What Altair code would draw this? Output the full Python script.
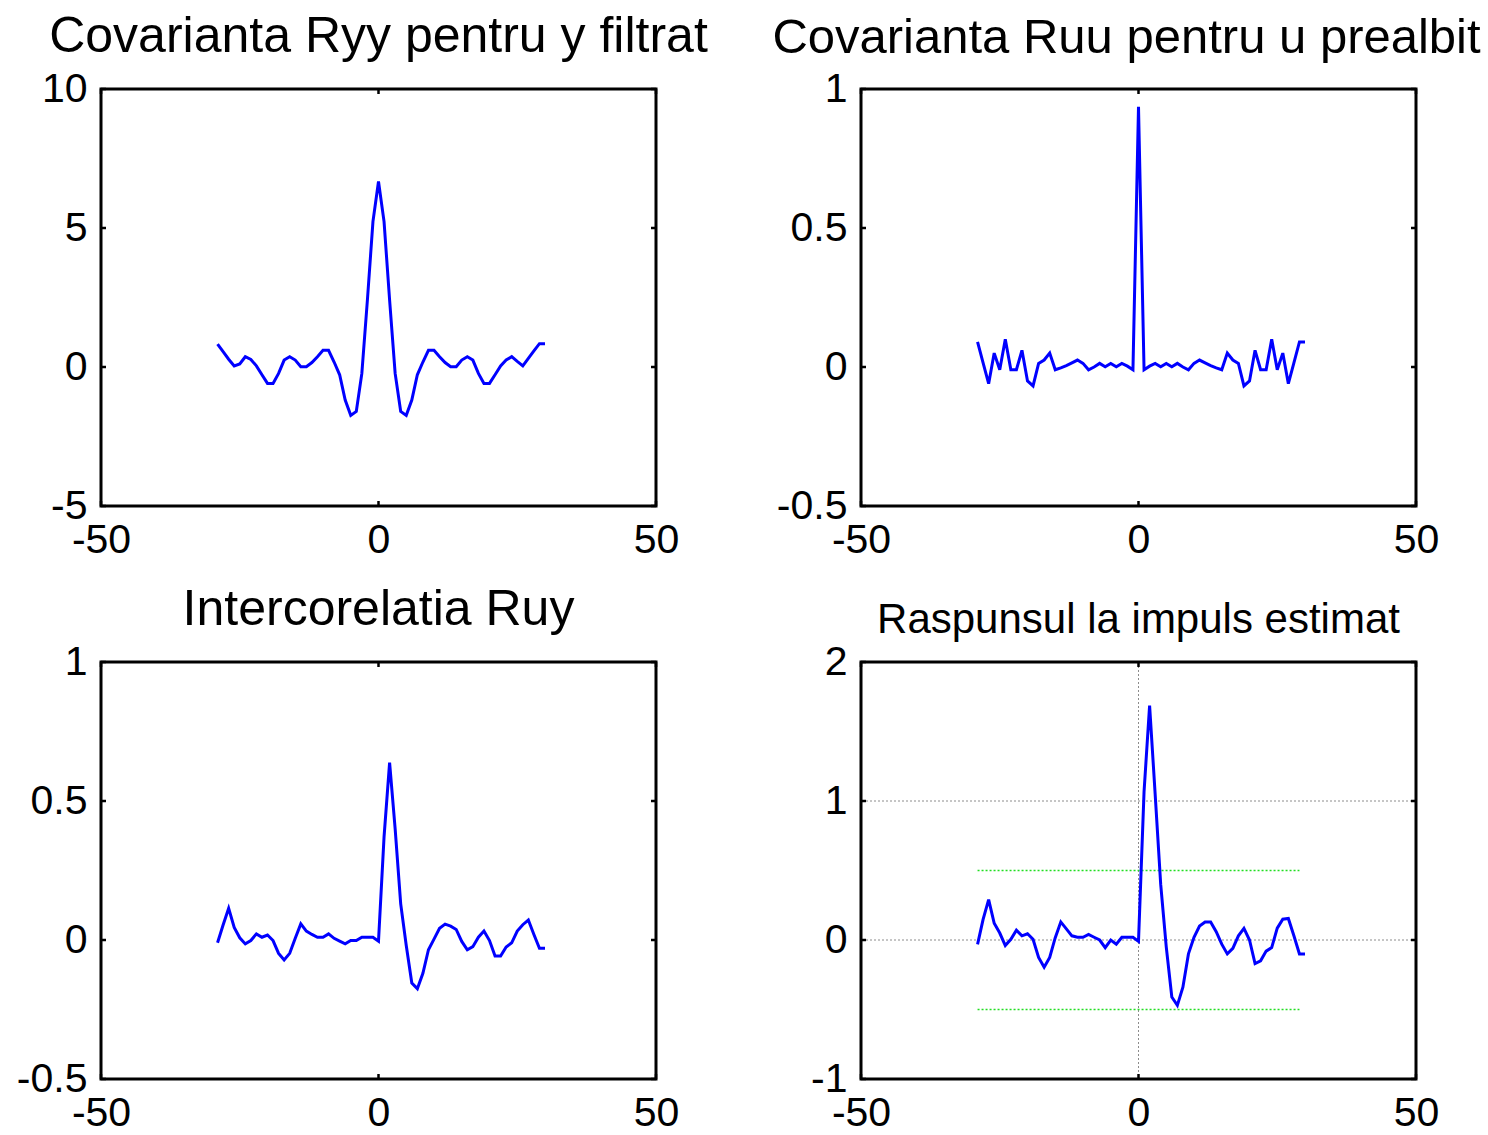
import altair as alt
import pandas as pd

# ---------------- data ----------------
lags = list(range(-29, 31))

ryy = [0.82, 0.55, 0.28, 0.04, 0.11, 0.37, 0.27, 0.04, -0.28, -0.59,
       -0.59, -0.23, 0.25, 0.37, 0.25, 0.01, 0.01, 0.16, 0.37, 0.60,
       0.60, 0.18, -0.28, -1.19, -1.74, -1.60, -0.23, 2.41, 5.23, 6.67,
       5.23, 2.41, -0.23, -1.60, -1.74, -1.19, -0.28, 0.18, 0.60, 0.60,
       0.37, 0.16, 0.01, 0.01, 0.25, 0.37, 0.25, -0.23, -0.59, -0.59,
       -0.28, 0.04, 0.25, 0.37, 0.20, 0.04, 0.31, 0.58, 0.84, 0.84]

ruu = [0.09, 0.015, -0.06, 0.05, -0.01, 0.10, -0.01, -0.01, 0.06, -0.05,
       -0.068, 0.013, 0.025, 0.05, -0.01, -0.003, 0.005, 0.015, 0.025, 0.013,
       -0.01, 0.0, 0.013, 0.001, 0.013, 0.001, 0.013, 0.003, -0.01, 0.936,
       -0.01, 0.003, 0.013, 0.001, 0.013, 0.001, 0.013, 0.0, -0.01, 0.013,
       0.025, 0.015, 0.005, -0.003, -0.01, 0.05, 0.025, 0.013, -0.068, -0.05,
       0.06, -0.01, -0.01, 0.10, -0.01, 0.05, -0.06, 0.015, 0.09, 0.09]

ruy = [-0.01, 0.054, 0.114, 0.045, 0.008, -0.014, -0.002, 0.022, 0.01, 0.018,
       -0.002, -0.048, -0.072, -0.048, 0.006, 0.058, 0.032, 0.02, 0.01, 0.01,
       0.022, 0.006, -0.004, -0.014, -0.002, -0.002, 0.01, 0.01, 0.01, -0.004,
       0.371, 0.638, 0.40, 0.13, -0.02, -0.155, -0.175, -0.12, -0.035, 0.003,
       0.042, 0.057, 0.05, 0.038, -0.005, -0.035, -0.024, 0.01, 0.032, -0.002,
       -0.058, -0.058, -0.025, -0.01, 0.032, 0.055, 0.072, 0.02, -0.03, -0.03]

h_est = [-0.031, 0.148, 0.29, 0.12, 0.05, -0.04, 0.005, 0.07, 0.03, 0.045,
         0.005, -0.126, -0.196, -0.126, 0.017, 0.13, 0.08, 0.03, 0.02, 0.02,
         0.04, 0.02, 0.0, -0.055, 0.0, -0.03, 0.02, 0.02, 0.02, -0.01,
         1.067, 1.687, 1.05, 0.40, -0.05, -0.41, -0.47, -0.34, -0.10, 0.02,
         0.10, 0.13, 0.13, 0.06, -0.03, -0.10, -0.06, 0.03, 0.083, 0.0,
         -0.17, -0.15, -0.08, -0.055, 0.085, 0.15, 0.155, 0.03, -0.10, -0.10]

x_ticks = [-50, 0, 50]
y_ticks_ryy = [-5, 0, 5, 10]
y_ticks_ruu = [-0.5, 0, 0.5, 1]
y_ticks_ruy = [-0.5, 0, 0.5, 1]
y_ticks_h = [-1, 0, 1, 2]

conf_x = [-29, 29]
conf_levels = [0.5, -0.5]

titles = ["Covarianta Ryy pentru y filtrat",
          "Covarianta Ruu pentru u prealbit",
          "Intercorelatia Ruy",
          "Raspunsul la impuls estimat"]

# ---------------- styling ----------------
W, H = 555, 417
FONT = "Liberation Sans"
TICK = 5
LABEL_SIZE = 41
X_DOM = [-50, 50]


def make_axis(values):
    return alt.Axis(values=values, title=None, grid=False, domain=False,
                    ticks=False, labelFontSize=LABEL_SIZE, labelPadding=14,
                    labelFlush=False, labelOverlap=False, labelColor="black",
                    labelFont=FONT, labelExpr="'' + datum.value")


def panel(values, ydom, yticks, title, title_size=50, title_dx=0,
          grid=False, conf=False):
    xs = alt.Scale(domain=X_DOM, nice=False, zero=False)
    ys = alt.Scale(domain=ydom, nice=False, zero=False)
    xax = make_axis(x_ticks)
    yax = make_axis(yticks)
    df = pd.DataFrame({"lag": lags, "val": values})

    layers = []
    if grid:
        gx = pd.DataFrame({"t": [t for t in x_ticks if X_DOM[0] < t < X_DOM[1]]})
        gy = pd.DataFrame({"t": [t for t in yticks if ydom[0] < t < ydom[1]]})
        gstyle = dict(color="#8c8c8c", strokeWidth=1, strokeDash=[2, 2])
        layers.append(alt.Chart(gx).mark_rule(**gstyle).encode(
            x=alt.X("t:Q", scale=xs, axis=xax)))
        layers.append(alt.Chart(gy).mark_rule(**gstyle).encode(
            y=alt.Y("t:Q", scale=ys, axis=yax)))
    if conf:
        cdf = pd.DataFrame({"x1": [conf_x[0]] * len(conf_levels),
                            "x2": [conf_x[1]] * len(conf_levels),
                            "lvl": conf_levels})
        layers.append(alt.Chart(cdf).mark_rule(
            color="#22dd22", strokeWidth=1.3, strokeDash=[2, 2]).encode(
            x=alt.X("x1:Q", scale=xs, axis=xax),
            x2="x2:Q",
            y=alt.Y("lvl:Q", scale=ys, axis=yax),
        ))

    layers.append(alt.Chart(df).mark_line(color="#0000ff", strokeWidth=3).encode(
        x=alt.X("lag:Q", scale=xs, axis=xax),
        y=alt.Y("val:Q", scale=ys, axis=yax),
    ))

    xt = pd.DataFrame({"t": x_ticks})
    yt = pd.DataFrame({"t": yticks})
    tk = dict(color="black", strokeWidth=2.5)
    layers += [
        alt.Chart(xt).mark_rule(**tk).encode(
            x=alt.X("t:Q", scale=xs, axis=xax), y=alt.value(H), y2=alt.value(H - TICK)),
        alt.Chart(xt).mark_rule(**tk).encode(
            x=alt.X("t:Q", scale=xs, axis=xax), y=alt.value(0), y2=alt.value(TICK)),
        alt.Chart(yt).mark_rule(**tk).encode(
            y=alt.Y("t:Q", scale=ys, axis=yax), x=alt.value(0), x2=alt.value(TICK)),
        alt.Chart(yt).mark_rule(**tk).encode(
            y=alt.Y("t:Q", scale=ys, axis=yax), x=alt.value(W), x2=alt.value(W - TICK)),
    ]

    return alt.layer(*layers).properties(
        width=W, height=H,
        title=alt.TitleParams(text=title, fontSize=title_size, font=FONT,
                              fontWeight="normal", color="black",
                              anchor="middle", offset=6, dx=title_dx, dy=39.5,
                              baseline="alphabetic"),
    )


p1 = panel(ryy, [-5, 10], y_ticks_ryy, titles[0])
p2 = panel(ruu, [-0.5, 1], y_ticks_ruu, titles[1], title_size=49, title_dx=-12)
p3 = panel(ruy, [-0.5, 1], y_ticks_ruy, titles[2])
p4 = panel(h_est, [-1, 2], y_ticks_h, titles[3], title_size=42,
           grid=True, conf=True)

chart = alt.concat(
    p1, p2, p3, p4, columns=2,
    spacing=alt.RowColnumber(row=156, column=205),
    bounds="flush",
).properties(
    padding={"left": 14, "top": 10, "right": 4, "bottom": 0},
    background="white",
).configure(font=FONT).configure_view(stroke="black", strokeWidth=3)

chart.save("out.html", embed_options={"renderer": "svg", "actions": False})
